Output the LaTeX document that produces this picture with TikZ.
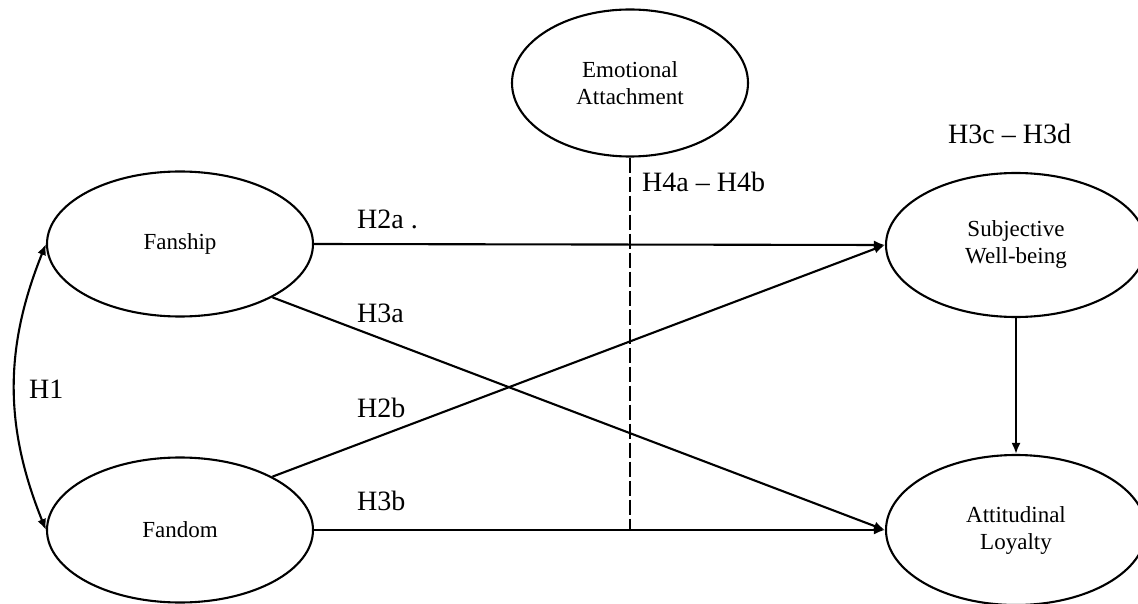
\documentclass[tikz,border=0pt]{standalone}
\usepackage{fontspec}
\setmainfont{Liberation Serif}
\usetikzlibrary{shapes,arrows.meta,calc,positioning}
\tikzstyle{construct} = [ellipse, draw, line width=2.1pt, minimum width=266pt, minimum height=145pt, align=center, font=\fontsize{23}{27}\selectfont]
\tikzstyle{link} = [draw, -{Latex[length=11pt,width=9pt]}, line width=2.1pt]
\tikzstyle{hyp} = [anchor=base west, inner sep=0pt, font=\fontsize{28}{34}\selectfont]

\begin{document}
\begin{tikzpicture}[x=1pt,y=-1pt]
\useasboundingbox (0,0) rectangle (1138,604);

\node [construct, minimum width=236pt, minimum height=147pt] (attach) at (630,83) {Emotional\\Attachment};
\node [construct] (fanship) at (180,244) {Fanship};
\node [construct] (fandom) at (180,530) {Fandom};
\node [construct, minimum width=260pt, minimum height=144pt] (wellbeing) at (1016,245) {Subjective\\Well-being};
\node [construct, minimum width=260pt, minimum height=150pt] (loyalty) at (1016,530) {Attitudinal\\Loyalty};

\coordinate (modjoin) at (attach.south |- fandom.east);

\path [link] (fanship.east) -- (wellbeing.west);
\path [link] (fandom.30) -- (wellbeing.west);
\path [link] (fanship.-30) -- (loyalty.west);
\path [link] (fandom.east) -- (loyalty.west);
\path [link] (wellbeing.south) -- (loyalty.north);
\path [link, {Latex[length=11pt,width=9pt]}-{Latex[length=11pt,width=9pt]}] (fanship.west) to[bend right=22] (fandom.west);
\draw [line width=2.1pt, dash pattern=on 15pt off 4pt] (attach.south) -- (modjoin);

\node [hyp] (h1) at (29,398) {H1};
\node [hyp] (h2a) at (357,229) {H2a .};
\node [hyp] (h3a) at (357,322) {H3a};
\node [hyp] (h2b) at (357,417) {H2b};
\node [hyp] (h3b) at (357,510) {H3b};
\node [hyp] (h4ab) at (642,192) {H4a -- H4b};
\node [hyp] (h3cd) at (948,144) {H3c -- H3d};

\end{tikzpicture}
\end{document}
